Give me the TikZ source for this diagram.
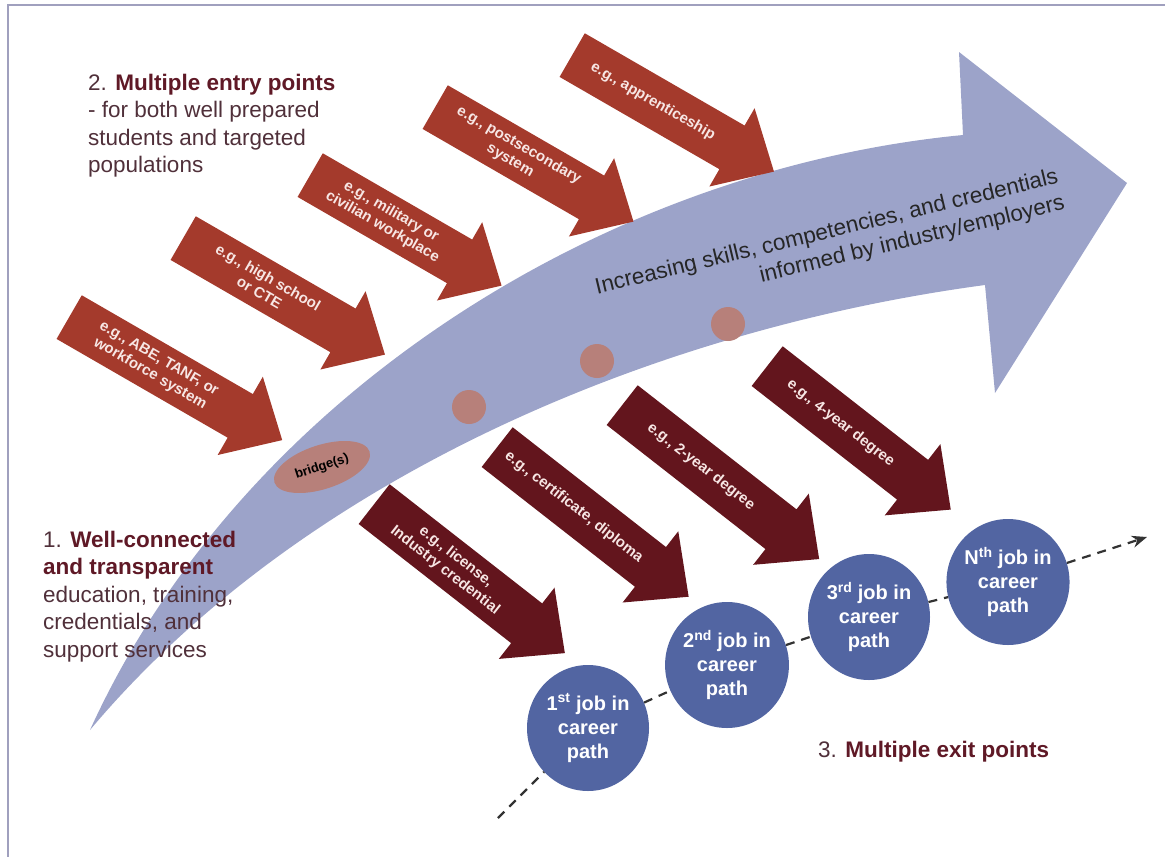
\documentclass[tikz,border=0pt]{standalone}
\usepackage{fontspec}
\setmainfont{Liberation Sans}
\usepackage{tikz}
\usetikzlibrary{shapes,arrows.meta,positioning,calc}
\usepackage{xcolor}
\definecolor{entryred}{RGB}{164,58,44}
\definecolor{exitred}{RGB}{99,21,29}
\definecolor{pathblue}{RGB}{156,163,201}
\definecolor{jobblue}{RGB}{82,101,162}
\definecolor{dotpink}{RGB}{183,128,122}
\definecolor{headred}{RGB}{95,25,38}
\definecolor{bodytext}{RGB}{80,48,58}
\definecolor{arrowtext}{RGB}{247,230,228}
\definecolor{framegray}{RGB}{160,160,190}

\begin{document}
\begin{tikzpicture}[x=1pt, y=-1pt]
      \tikzstyle{bigarrow} = [single arrow, inner xsep=0pt, inner ysep=25pt, minimum width=90pt, single arrow head extend=20pt, single arrow tip angle=86, anchor=tail]
      \tikzstyle{entry} = [bigarrow, fill=entryred, rotate=-30]
      \tikzstyle{exit} = [bigarrow, fill=exitred, rotate=-38]
      \tikzstyle{arrowlabel} = [text=arrowtext, inner sep=0pt, align=center, font=\fontsize{15}{17.5}\selectfont\bfseries]
      \tikzstyle{entrylabel} = [arrowlabel, rotate=-30]
      \tikzstyle{exitlabel} = [arrowlabel, rotate=-38]
      \tikzstyle{job} = [ellipse, fill=jobblue, text=white, minimum width=122pt, minimum height=126pt, inner sep=0pt, align=center, font=\fontsize{20}{24}\selectfont\bfseries]
      \tikzstyle{milestone} = [circle, fill=dotpink, minimum size=34pt, inner sep=0pt]
      \tikzstyle{bridge} = [ellipse, fill=dotpink, minimum width=100pt, minimum height=44pt, inner sep=0pt, rotate=18, font=\fontsize{13}{15}\selectfont\bfseries]
      \tikzstyle{heading} = [align=left, inner sep=0pt, text=bodytext, font=\fontsize{22.5}{27.5}\selectfont]
      \tikzstyle{careerline} = [dash pattern=on 9pt off 7pt, line width=2.2pt, draw=black!80]

      \useasboundingbox (0,0) rectangle (1165,857);
      \draw[framegray, line width=1.5pt] (1165,5) -- (8,5) -- (8,857);

      \fill[pathblue] (90,730) .. controls (240,400) and (600,170) .. (963,135) -- (959,52) -- (1127,183) -- (995,393) -- (985,285) .. controls (650,330) and (300,480) .. (90,730) -- cycle;
      \node[align=right, inner sep=0pt, rotate=13.5, text=black!85, font=\fontsize{22.5}{27}\selectfont] (skills) at (830,246) {Increasing skills, competencies, and credentials\\informed by industry/employers};

      \node[bridge] (bridge) at (322,467) {bridge(s)};
      \node[milestone] (dot1) at (469,407) {};
      \node[milestone] (dot2) at (597,361) {};
      \node[milestone] (dot3) at (728,324) {};

      \node[entry, minimum height=246pt] (abeA) at (69,317) {};
      \node[entry, minimum height=233pt] (schoolA) at (183,238) {};
      \node[entry, minimum height=221pt] (militaryA) at (310,175) {};
      \node[entry, minimum height=229pt] (postA) at (435,107) {};
      \node[entry, minimum height=233pt] (apprA) at (572,55) {};
      \node[entrylabel] (abe) at ($(abeA.tail)!0.4!(abeA.tip)$) {e.g., ABE, TANF, or\\workforce system};
      \node[entrylabel] (school) at ($(schoolA.tail)!0.4!(schoolA.tip)$) {e.g., high school\\or CTE};
      \node[entrylabel] (military) at ($(militaryA.tail)!0.4!(militaryA.tip)$) {e.g., military or\\civilian workplace};
      \node[entrylabel] (post) at ($(postA.tail)!0.4!(postA.tip)$) {e.g., postsecondary\\system};
      \node[entrylabel] (appr) at ($(apprA.tail)!0.4!(apprA.tip)$) {e.g., apprenticeship};

      \node[exit, minimum height=242pt] (licenseA) at (374,504) {};
      \node[exit, minimum height=243pt] (certA) at (497,447) {};
      \node[exit, minimum height=250pt] (twoyearA) at (622,405) {};
      \node[exit, minimum height=233pt] (fouryearA) at (767,366) {};
      \node[exitlabel] (license) at ($(licenseA.tail)!0.4!(licenseA.tip)$) {e.g., license,\\Industry credential};
      \node[exitlabel] (cert) at ($(certA.tail)!0.4!(certA.tip)$) {e.g., certificate, diploma};
      \node[exitlabel] (twoyear) at ($(twoyearA.tail)!0.4!(twoyearA.tip)$) {e.g., 2-year degree};
      \node[exitlabel] (fouryear) at ($(fouryearA.tail)!0.4!(fouryearA.tip)$) {e.g., 4-year degree};

      \node[job] (job1) at (588,728) {1\textsuperscript{st} job in\\career\\path};
      \node[job] (job2) at (727,665) {2\textsuperscript{nd} job in\\career\\path};
      \node[job] (job3) at (869,617) {3\textsuperscript{rd} job in\\career\\path};
      \node[job] (jobN) at (1008,582) {N\textsuperscript{th} job in\\career\\path};
      \coordinate (pathstart) at (498,818);
      \coordinate (pathend) at (1147,537);

      \draw[careerline] (pathstart) -- (job1) -- (job2) -- (job3) -- (jobN);
      \draw[careerline, -{Stealth[length=15pt, width=12pt]}] (jobN) -- (pathend);

      \node[heading, anchor=north west] (entrypts) at (88,73.5) {2. \textbf{\color{headred}Multiple entry points}\\- for both well prepared\\students and targeted\\populations};
      \node[heading, anchor=north west] (wellconn) at (43,530.5) {1. \textbf{\color{headred}Well-connected}\\\textbf{\color{headred}and transparent}\\education, training,\\credentials, and\\support services};
      \node[heading, anchor=base west] (exitpts) at (818,757) {3. \textbf{\color{headred}Multiple exit points}};
    \end{tikzpicture}
\end{document}
